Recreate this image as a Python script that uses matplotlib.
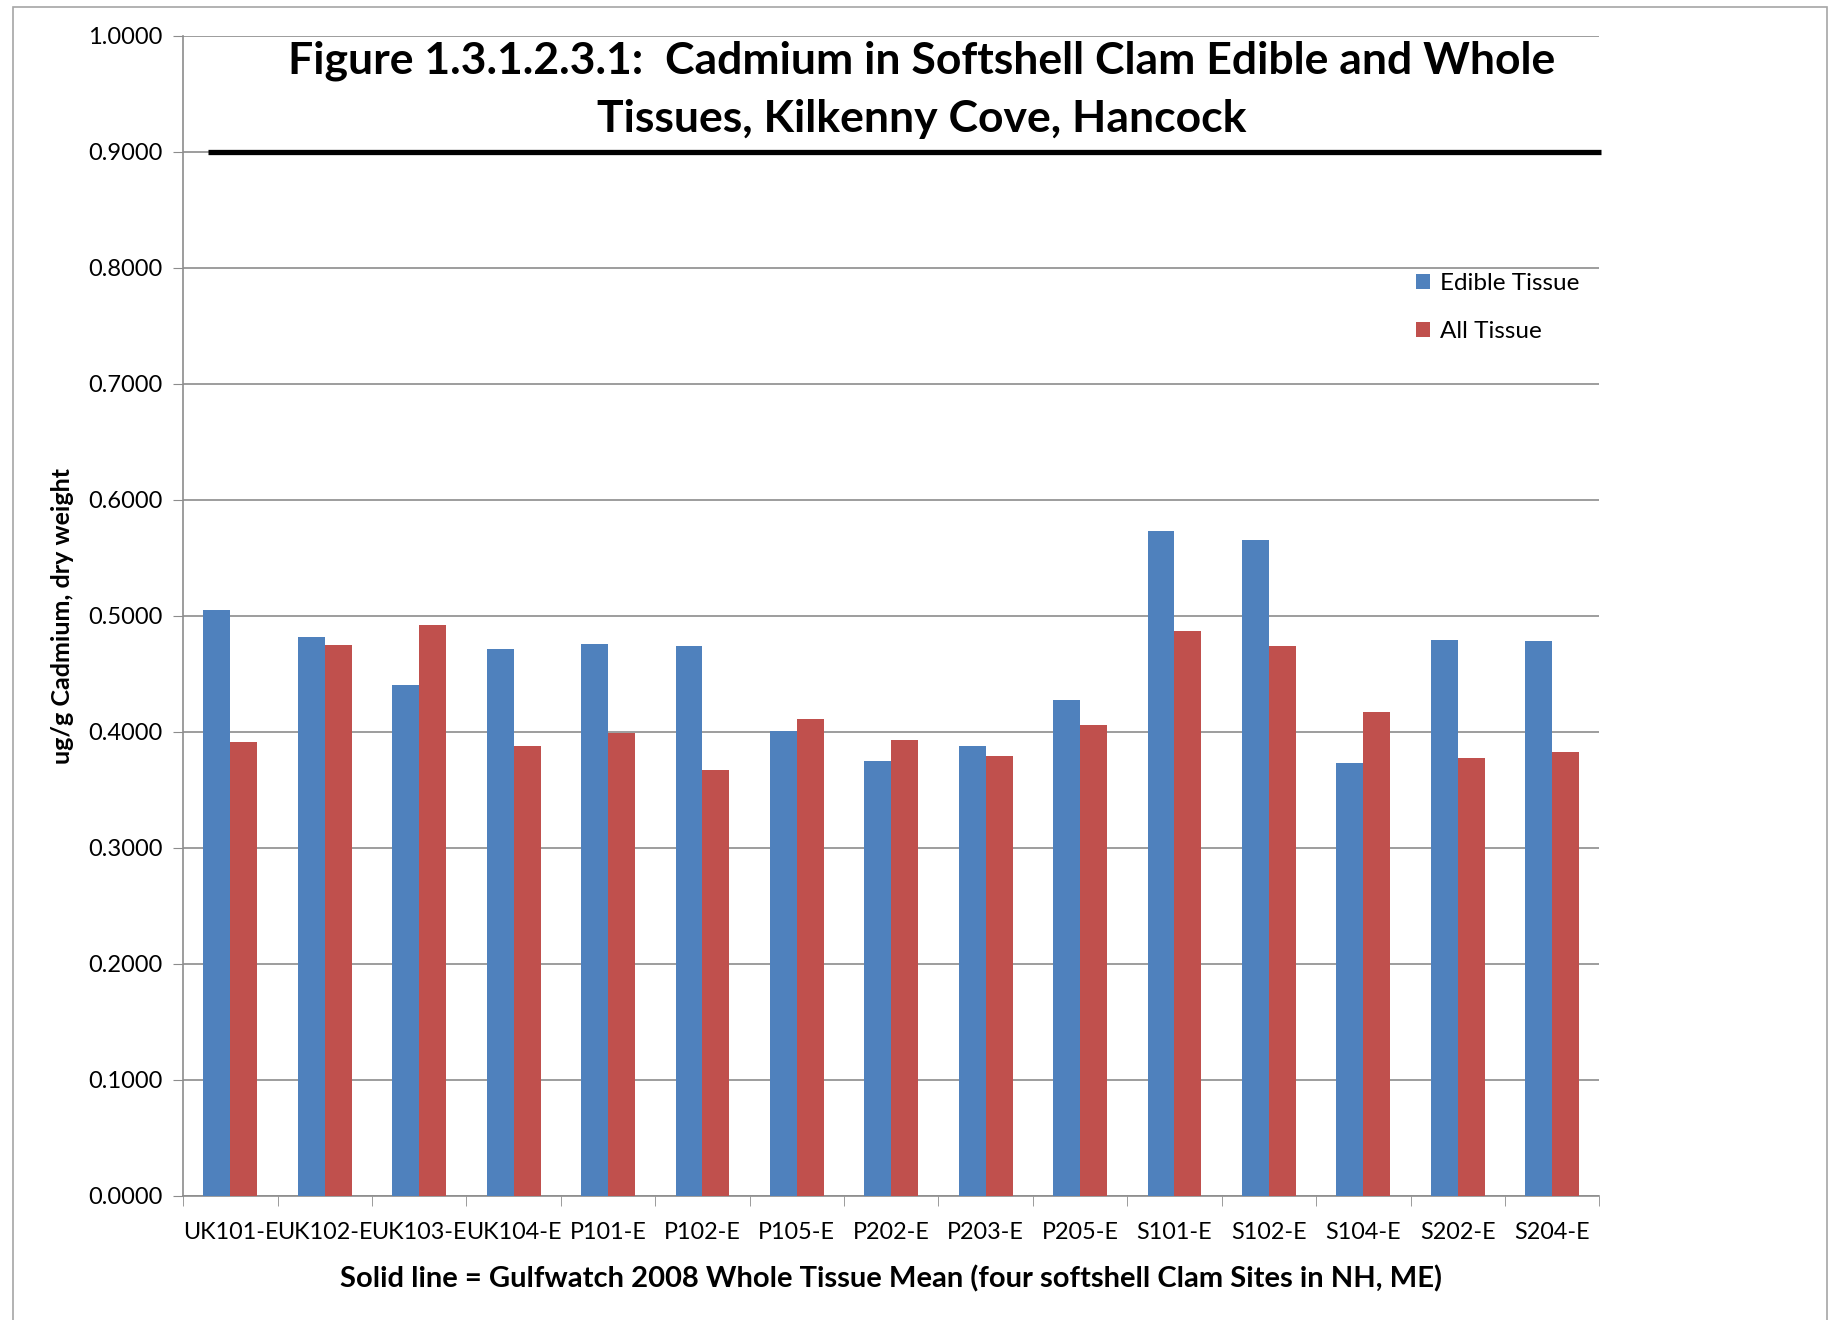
import numpy as np
import matplotlib
matplotlib.use("Agg")
import matplotlib.pyplot as plt
from matplotlib.patches import Rectangle

# ---- data ----
sites = ["UK101-E", "UK102-E", "UK103-E", "UK104-E", "P101-E", "P102-E",
         "P105-E", "P202-E", "P203-E", "P205-E", "S101-E", "S102-E",
         "S104-E", "S202-E", "S204-E"]
edible = [0.505, 0.482, 0.440, 0.471, 0.476, 0.474, 0.401, 0.375, 0.388,
          0.427, 0.573, 0.565, 0.373, 0.479, 0.478]
all_tissue = [0.391, 0.475, 0.492, 0.388, 0.399, 0.367, 0.411, 0.393, 0.379,
              0.406, 0.487, 0.474, 0.417, 0.377, 0.383]
gulfwatch_mean = 0.9
y_ticks = np.arange(0, 1.0001, 0.1)

BLUE = "#4F81BD"
RED = "#C0504D"
GRID = "#8C8C8C"

plt.rcParams["font.family"] = ["Lato", "DejaVu Sans"]

fig = plt.figure(figsize=(18.32, 13.2), dpi=100)
ax = fig.add_axes([0.100, 0.094, 0.773, 0.879])

# outer chart border (Excel chart area)
fig.patches.append(Rectangle((0.007, -0.01), 0.990, 1.005, transform=fig.transFigure,
                             fill=False, edgecolor="#A6A6A6", linewidth=1.2))

x = np.arange(len(sites))
w = 0.285
ax.bar(x - w / 2, edible, width=w, color=BLUE, label="Edible Tissue", zorder=3)
ax.bar(x + w / 2, all_tissue, width=w, color=RED, label="All Tissue", zorder=3)

# Gulfwatch mean line
ax.plot([-0.24, 14.52], [gulfwatch_mean, gulfwatch_mean], color="black",
        linewidth=3.8, zorder=4, clip_on=False, solid_capstyle="butt")

ax.set_xlim(-0.5, 14.5)
ax.set_ylim(0, 1.0)
ax.set_yticks(y_ticks)
ax.set_yticklabels([f"{v:.4f}" for v in y_ticks], fontsize=17)
ax.yaxis.grid(True, color=GRID, linewidth=1.2, zorder=0)
ax.set_axisbelow(True)

ax.set_xticks(x)
ax.set_xticklabels(sites, fontsize=16.8)
ax.set_xticks(np.arange(-0.5, 14.6, 1), minor=True)
ax.tick_params(axis="x", which="major", length=0, pad=19)
ax.tick_params(axis="x", which="minor", length=7, color=GRID, direction="out")
ax.tick_params(axis="y", length=7, color=GRID, pad=8)

for s in ["top", "right"]:
    ax.spines[s].set_visible(False)
for s in ["left", "bottom"]:
    ax.spines[s].set_color(GRID)
    ax.spines[s].set_linewidth(1.2)

ax.set_ylabel("ug/g Cadmium, dry weight", fontsize=18, fontweight="bold", labelpad=10)
ax.set_xlabel("Solid line = Gulfwatch 2008 Whole Tissue Mean (four softshell Clam Sites in NH, ME)",
              fontsize=21, fontweight="bold", labelpad=16)

fig.text(0.503, 0.932, "Figure 1.3.1.2.3.1:  Cadmium in Softshell Clam Edible and Whole\nTissues, Kilkenny Cove, Hancock",
         ha="center", va="center", fontsize=32, fontweight="bold", linespacing=1.55)

ax.legend(loc="upper left", bbox_to_anchor=(0.855, 0.814), frameon=False,
          fontsize=17.5, handlelength=0.6, handleheight=0.6, labelspacing=1.1,
          handletextpad=0.4)

fig.savefig("out.png", dpi=100)
